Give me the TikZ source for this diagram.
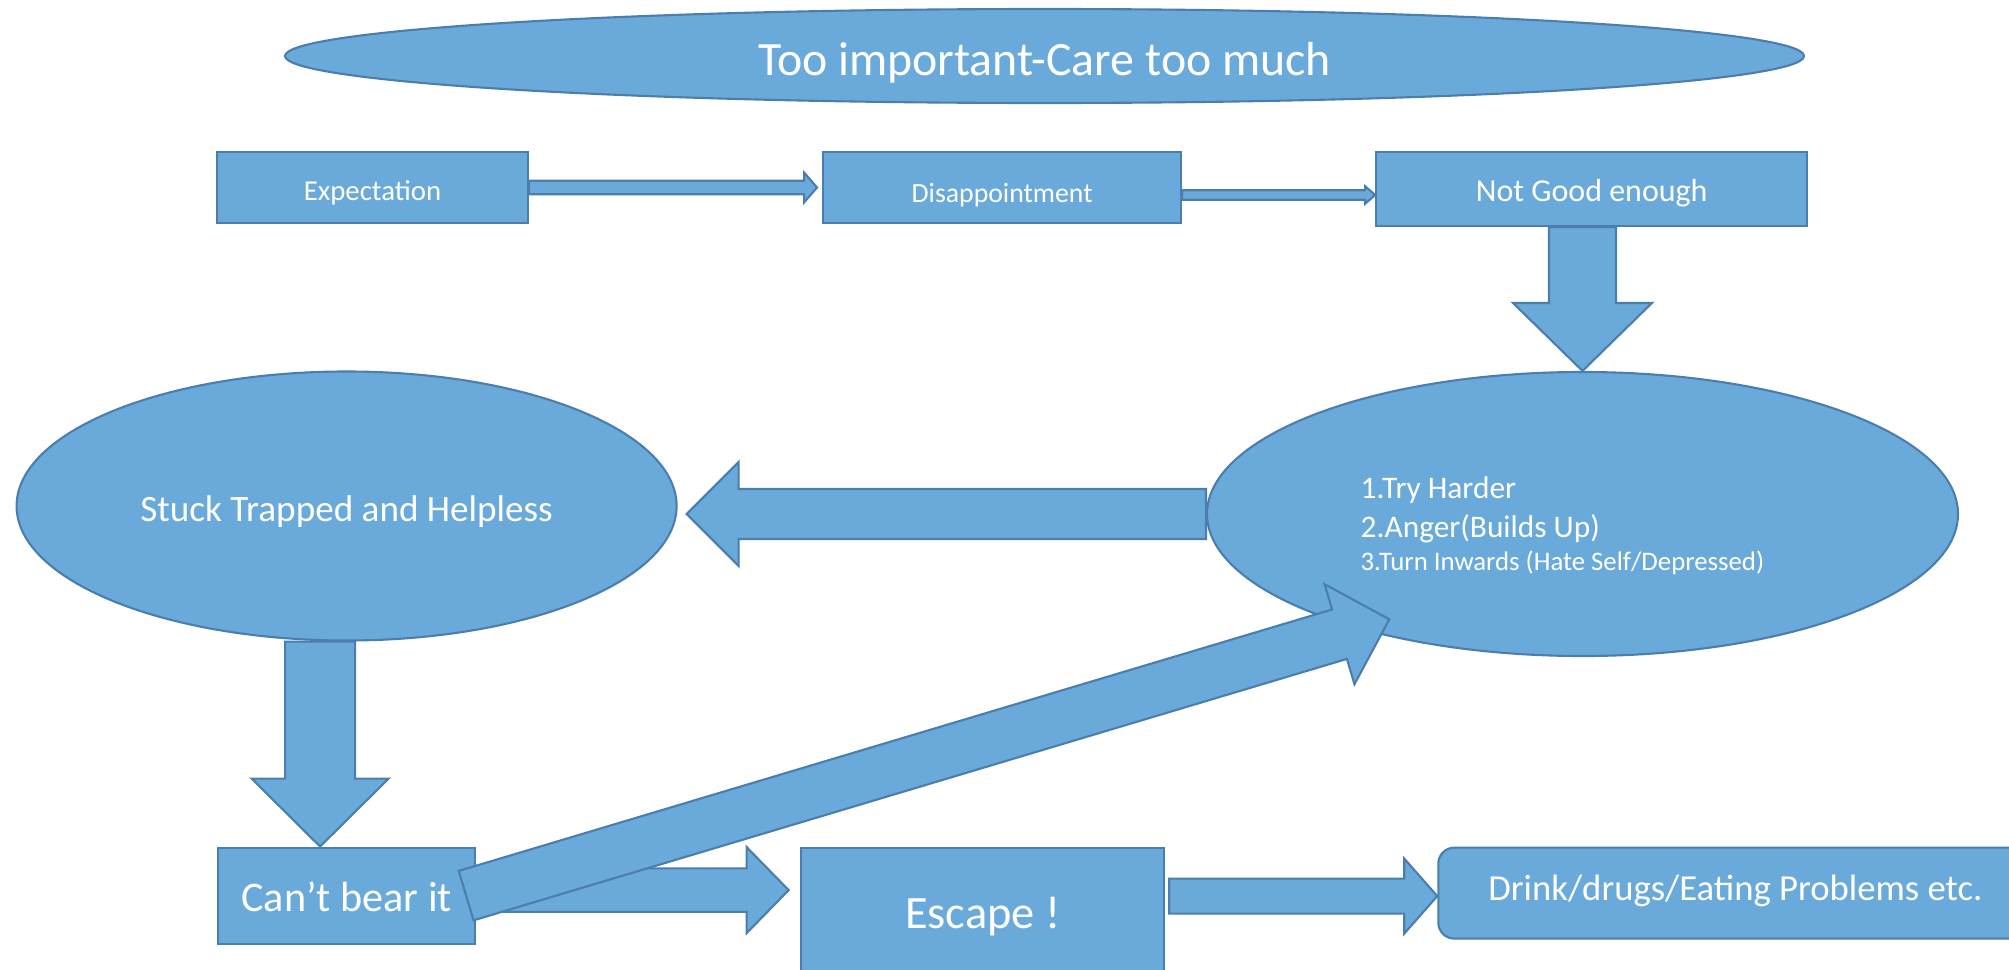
\documentclass[tikz,border=0pt]{standalone}
\usepackage{fontspec}
\setmainfont{Carlito}
\usepackage{tikz}
\usetikzlibrary{shapes.geometric, positioning, calc}
\definecolor{flowblue}{HTML}{6AAADB}
\definecolor{flowedge}{HTML}{4B7DAD}

\newcommand{\blockarrow}[5]{%
  \coordinate (hb) at ($(#2)!#5!(#1)$);
  \draw[fatarrow] ($(#1)!#3!90:(#2)$) -- ($(hb)!#3!90:(#2)$) -- ($(hb)!#4!90:(#2)$) -- (#2)
    -- ($(hb)!#4!-90:(#2)$) -- ($(hb)!#3!-90:(#2)$) -- ($(#1)!#3!-90:(#2)$) -- cycle;
}

\begin{document}
\begin{tikzpicture}[
    box/.style={draw=flowedge, fill=flowblue, line width=0.6pt, inner sep=0pt, text=white, text depth=0pt},
    oval/.style={box, ellipse},
    fatarrow/.style={draw=flowedge, fill=flowblue, line width=0.6pt, line join=miter}
]
    \path[use as bounding box] (0,0) rectangle (20.09,-9.70);
    \clip (0,0) rectangle (20.09,-9.70);

    \node[oval, minimum width=15.19cm, minimum height=0.94cm, text height=0.40cm, font=\fontsize{13.6}{16}\selectfont] (care) at (10.445,-0.56) {Too important-Care too much};

    \node[box, minimum width=3.11cm, minimum height=0.71cm, text height=0.25cm, font=\fontsize{8.2}{10}\selectfont] (expect) at (3.725,-1.875) {Expectation};
    \node[box, minimum width=3.58cm, minimum height=0.71cm, text height=0.30cm, font=\fontsize{7.9}{10}\selectfont, right=2.93cm of expect] (disap) {Disappointment};
    \node[box, minimum width=4.31cm, minimum height=0.74cm, text height=0.25cm, font=\fontsize{9.1}{11}\selectfont, right=1.93cm of disap.north east, anchor=north west] (notgood) {Not Good enough};

    \node[oval, minimum width=6.60cm, minimum height=2.69cm, text height=0.30cm, font=\fontsize{10.58}{13}\selectfont] (stuck) at (3.466,-5.06) {Stuck Trapped and Helpless};
    \node[oval, minimum width=7.51cm, minimum height=2.84cm] (cope) at (15.825,-5.14) {};
    \node[anchor=west, align=left, inner sep=0pt, text=white, font=\fontsize{8.93}{11.1}\selectfont] (copelist) at ($(cope.west)+(1.54,-0.12)$) {1.Try Harder\\2.Anger(Builds Up)\\[-1.6pt]{\fontsize{7.62}{9.5}\selectfont 3.Turn Inwards (Hate Self/Depressed)}};

    \node[box, minimum width=2.57cm, minimum height=0.96cm, text height=0.32cm, font=\fontsize{12}{14}\selectfont, below=2.05cm of stuck] (cant) {Can’t bear it};
    \node[box, minimum width=3.63cm, minimum height=1.32cm, text height=0.30cm, font=\fontsize{13.2}{16}\selectfont, right=3.24cm of cant.north east, anchor=north west] (escape) {Escape !};
    \node[box, rounded corners=0.16cm, minimum width=5.94cm, minimum height=0.91cm, text height=0.14cm, font=\fontsize{10.44}{12}\selectfont, right=2.72cm of escape.north east, anchor=north west] (drink) {Drink/drugs/Eating Problems etc.};

    \coordinate (disin) at ($(disap.west)+(-0.05,0)$);
    \blockarrow{expect.east}{disin}{0.067cm}{0.15cm}{0.13cm}

    \coordinate (disout) at ($(disap.east)+(0,-0.075)$);
    \coordinate (goodin) at (notgood.west |- disout);
    \blockarrow{disout}{goodin}{0.047cm}{0.087cm}{0.10cm}

    \coordinate (goodout) at (cope.north |- notgood.south);
    \blockarrow{goodout}{cope.north}{0.335cm}{0.695cm}{0.68cm}

    \coordinate (stuckin) at ($(stuck.east |- cope.west)+(0.09,0)$);
    \blockarrow{cope.west}{stuckin}{0.25cm}{0.52cm}{0.52cm}

    \coordinate (cantin) at ($(cant.north)+(-0.265,0)$);
    \coordinate (stuckout) at (cantin |- stuck.south);
    \blockarrow{stuckout}{cantin}{0.35cm}{0.685cm}{0.68cm}

    \coordinate (cantout) at ($(cant.east)+(0,0.055)$);
    \coordinate (escin) at ($(escape.west |- cantout)+(-0.115,0)$);
    \blockarrow{cantout}{escin}{0.217cm}{0.43cm}{0.42cm}

    \coordinate (escout) at ($(escape.east |- drink.west)+(0.04,-0.03)$);
    \coordinate (drinkin) at ($(drink.west)+(0,-0.03)$);
    \blockarrow{escout}{drinkin}{0.175cm}{0.375cm}{0.33cm}

    \coordinate (cantup) at ($(cant.east)+(-0.1,0)$);
    \coordinate (copein) at ($(cope.center)+(-1.932,-1.053)$);
    \blockarrow{cantup}{copein}{0.258cm}{0.522cm}{0.52cm}
\end{tikzpicture}
\end{document}
